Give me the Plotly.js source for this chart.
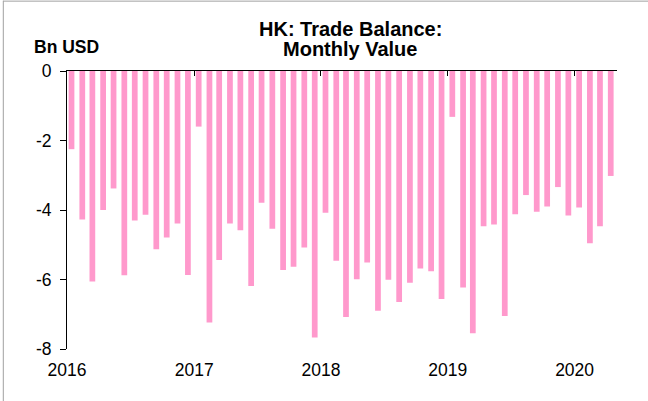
<!DOCTYPE html>
<html>
<head>
<meta charset="utf-8">
<script src="https://cdn.plot.ly/plotly-3.0.1.min.js"></script>
<style>html,body{margin:0;padding:0;background:#fff;}#chart{width:648px;height:401px;}</style>
</head>
<body>
<div id="chart"></div>
<script>
// Monthly dates (Jan 2016 - Apr 2020)
const months = [
  "2016-01","2016-02","2016-03","2016-04","2016-05","2016-06","2016-07","2016-08","2016-09","2016-10","2016-11","2016-12",
  "2017-01","2017-02","2017-03","2017-04","2017-05","2017-06","2017-07","2017-08","2017-09","2017-10","2017-11","2017-12",
  "2018-01","2018-02","2018-03","2018-04","2018-05","2018-06","2018-07","2018-08","2018-09","2018-10","2018-11","2018-12",
  "2019-01","2019-02","2019-03","2019-04","2019-05","2019-06","2019-07","2019-08","2019-09","2019-10","2019-11","2019-12",
  "2020-01","2020-02","2020-03","2020-04"
];
// Trade balance, Bn USD
const tradeBalance = [
  -2.25,-4.27,-6.06,-4.00,-3.38,-5.88,-4.30,-4.14,-5.13,-4.79,-4.39,-5.87,
  -1.60,-7.24,-5.44,-4.39,-4.58,-6.19,-3.79,-4.54,-5.73,-5.63,-5.08,-7.67,
  -4.08,-5.46,-7.08,-5.99,-5.51,-6.90,-6.01,-6.65,-6.09,-5.68,-5.76,-6.56,
  -1.32,-6.23,-7.55,-4.47,-4.42,-7.05,-4.12,-3.57,-4.05,-3.90,-3.34,-4.16,
  -3.93,-4.96,-4.47,-3.02
];
const yearTicks = ["2016-01-01","2017-01-01","2018-01-01","2019-01-01","2020-01-01"];
const yearLabels = ["2016","2017","2018","2019","2020"];
const yTicks = [0,-2,-4,-6,-8];
const titleLines = ["HK: Trade Balance:", "Monthly Value"];
const unitLabel = "Bn USD";

const xDates = months.map(m => m + "-14");
const DAY = 86400000;

const trace = {
  type: "bar",
  x: xDates,
  y: tradeBalance,
  width: xDates.map(() => 16.5 * DAY),
  marker: {color: "#ff99cc", line: {width: 0}},
  hoverinfo: "x+y"
};

const FONT = "Liberation Sans, Arial, sans-serif";
const xr = ["2016-01-01","2020-05-02"];
const layout = {
  width: 648, height: 401,
  margin: {l: 67, r: 31, t: 71, b: 52, pad: 0},
  paper_bgcolor: "#ffffff",
  plot_bgcolor: "#ffffff",
  font: {family: FONT, color: "#000", size: 17.5},
  showlegend: false,
  xaxis: {
    type: "date", range: xr,
    tickvals: yearTicks, ticktext: yearLabels,
    ticks: "", showline: false, showgrid: false, zeroline: false,
    tickfont: {size: 17.5},
    ticklabelstandoff: 8
  },
  xaxis2: {
    type: "date", range: xr, overlaying: "x", side: "top", anchor: "y",
    tickvals: yearTicks, showticklabels: false,
    ticks: "inside", ticklen: 5, tickwidth: 1, tickcolor: "#000",
    showline: true, linecolor: "#000", linewidth: 1,
    showgrid: false, zeroline: false
  },
  yaxis: {
    range: [-8, 0],
    tickvals: yTicks, ticktext: yTicks.map(String),
    ticks: "outside", ticklen: 6, tickwidth: 1, tickcolor: "#000",
    showline: true, linecolor: "#000", linewidth: 1,
    showgrid: false, zeroline: false,
    tickfont: {size: 17.5},
    ticklabelstandoff: 5
  },
  annotations: [
    {text: "<b>" + titleLines[0] + "</b>", xref: "paper", yref: "paper",
     x: 0.515, y: 1.1505, xanchor: "center", yanchor: "middle",
     showarrow: false, font: {size: 20, color: "#000", family: FONT}},
    {text: "<b>" + titleLines[1] + "</b>", xref: "paper", yref: "paper",
     x: 0.515, y: 1.0785, xanchor: "center", yanchor: "middle",
     showarrow: false, font: {size: 20, color: "#000", family: FONT}},
    {text: "<b>" + unitLabel + "</b>", xref: "paper", yref: "paper",
     x: -0.0013, y: 1.0880, xanchor: "center", yanchor: "middle",
     showarrow: false, font: {size: 17.5, color: "#000", family: FONT}}
  ],
  shapes: [
    {type: "line", xref: "paper", yref: "paper", x0: -0.1158, x1: -0.1158, y0: 1.253, y1: -0.19, line: {color: "#a0a0a0", width: 1}},
    {type: "line", xref: "paper", yref: "paper", x0: -0.1158, x1: 1.06, y0: 1.2513, y1: 1.2513, line: {color: "#a0a0a0", width: 1}}
  ]
};

const trace2 = {type: "scatter", x: [], y: [], xaxis: "x2", yaxis: "y", hoverinfo: "skip"};

Plotly.newPlot("chart", [trace, trace2], layout, {displayModeBar: false, staticPlot: true});
</script>
</body>
</html>
